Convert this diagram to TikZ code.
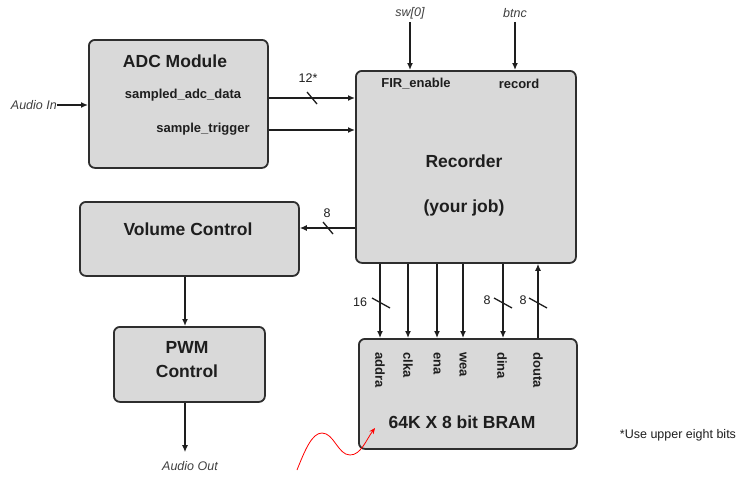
\documentclass[tikz,border=0pt]{standalone}
\usepackage{fontspec}
\setmainfont{Liberation Sans}
\usetikzlibrary{arrows.meta}
\definecolor{boxfill}{HTML}{D9D9D9}
\definecolor{boxline}{HTML}{2E2E2E}
\definecolor{txt}{HTML}{1E1E1E}
\begin{document}
\begin{tikzpicture}[x=1pt,y=-1pt,
  blk/.style={draw=boxline,fill=boxfill,line width=1.8pt,rounded corners=6pt,inner sep=0pt,anchor=north west},
  big/.style={font=\bfseries\fontsize{17.5}{20}\selectfont,text=txt,inner sep=0pt},
  port/.style={font=\bfseries\fontsize{13}{15}\selectfont,text=txt,inner sep=0pt},
  vport/.style={port,rotate=-90,anchor=west},
  sig/.style={font=\itshape\fontsize{12.5}{14}\selectfont,text=txt!85,inner sep=0pt},
  wlbl/.style={font=\fontsize{12.5}{14}\selectfont,text=txt,inner sep=0pt},
  arr/.style={draw=txt,line width=1.3pt,-{Latex[length=7pt,width=6pt]}},
  slash/.style={draw=txt,line width=1.3pt}]
\useasboundingbox (0,0) rectangle (739,477);
\fill[white] (0,0) rectangle (739,477);

% boxes
\node[blk,minimum width=179pt,minimum height=128pt] (adc) at (88,39) {};
\node[blk,minimum width=220pt,minimum height=192pt] (rec) at (355,70) {};
\node[blk,minimum width=219pt,minimum height=74pt] (vol) at (79,201) {};
\node[blk,minimum width=151pt,minimum height=75pt] (pwm) at (113,326) {};
\node[blk,minimum width=218pt,minimum height=110pt] (bram) at (358,338) {};

% ADC texts
\node[big] (adct) at (175,61) {ADC Module};
\node[port] (sad) at (183,95) {sampled\_adc\_data};
\node[port] (st) at (203,129) {sample\_trigger};
\node[sig,anchor=east] (ain) at (57,105) {Audio In};
\draw[arr] (ain.east) -- (ain.east -| adc.west);

% ADC -> Recorder
\coordinate (y1) at (0,98);
\coordinate (y2) at (0,130);
\draw[arr] (y1 -| adc.east) -- (y1 -| rec.west);
\draw[arr] (y2 -| adc.east) -- (y2 -| rec.west);
\coordinate (s12) at (312,98);
\draw[slash] (s12) ++(-5,-6) -- ++(10,12);
\node[wlbl] (l12) at (308,78) {12*};

% Recorder texts
\node[port] (fir) at (416,84) {FIR\_enable};
\node[port] (recd) at (519,84) {record};
\node[big] (rect) at (464,161) {Recorder};
\node[big] (job) at (464,208) {(your job)};
\node[sig] (sw) at (410,13) {sw[0]};
\node[sig] (btnc) at (515,13) {btnc};
\draw[arr] ([yshift=-3pt]sw.south) -- (sw.south |- rec.north);
\draw[arr] ([yshift=-4pt]btnc.south) -- (btnc.south |- rec.north);

% Recorder -> Volume
\node[big] (volt) at (188,229) {Volume Control};
\coordinate (y3) at (0,228);
\draw[arr] (y3 -| rec.west) -- (y3 -| vol.east);
\coordinate (s8a) at (328,228);
\draw[slash] (s8a) ++(-5,-6) -- ++(10,12);
\node[wlbl] (l8a) at (327,213) {8};

% Volume -> PWM -> out
\node[big] (pwm1) at (187,347) {PWM};
\node[big] (pwm2) at (187,371) {Control};
\coordinate (cx) at (185,0);
\draw[arr] (vol.south -| cx) -- (pwm.north -| cx);
\node[sig] (aout) at (190,466) {Audio Out};
\draw[arr] (pwm.south -| cx) -- ([yshift=9pt]aout.north -| cx);

% BRAM labels
\node[vport] (addra) at (380,352) {addra};
\node[vport] (clka) at (408,352) {clka};
\node[vport] (ena) at (437,352) {ena};
\node[vport] (wea) at (463,352) {wea};
\node[vport] (dina) at (502,352) {dina};
\node[vport] (douta) at (538,352) {douta};
\node[big] (bramt) at (462,422) {64K X 8 bit BRAM};

% Recorder <-> BRAM
\draw[arr] (rec.south -| addra) -- (bram.north -| addra);
\draw[arr] (rec.south -| clka) -- (bram.north -| clka);
\draw[arr] (rec.south -| ena) -- (bram.north -| ena);
\draw[arr] (rec.south -| wea) -- (bram.north -| wea);
\coordinate (dx) at (503,0);
\draw[arr] (rec.south -| dx) -- (bram.north -| dx);
\draw[arr] (bram.north -| douta) -- (rec.south -| douta);

\coordinate (s16) at (381,303);
\draw[slash] (s16) ++(-9,-5) -- ++(18,10);
\node[wlbl] (l16) at (360,302) {16};
\coordinate (s8b) at (503,303);
\draw[slash] (s8b) ++(-9,-5) -- ++(18,10);
\node[wlbl] (l8b) at (487,300) {8};
\coordinate (s8c) at (538,303);
\draw[slash] (s8c) ++(-9,-5) -- ++(18,10);
\node[wlbl] (l8c) at (523,300) {8};

% note
\node[wlbl] (note) at (678,435) {*Use upper eight bits};

% red squiggle
\coordinate (r0) at (297,470);
\coordinate (r1) at (322,433);
\coordinate (r2) at (350,455);
\coordinate (r3) at (375,428);
\draw[red,line width=0.8pt,-{Stealth[length=6pt,width=5pt]}]
  (r0) .. controls (305,450) and (312,433) .. (r1)
       .. controls (334,433) and (338,455) .. (r2)
       .. controls (361,455) and (366,440) .. (r3);
\end{tikzpicture}
\end{document}
